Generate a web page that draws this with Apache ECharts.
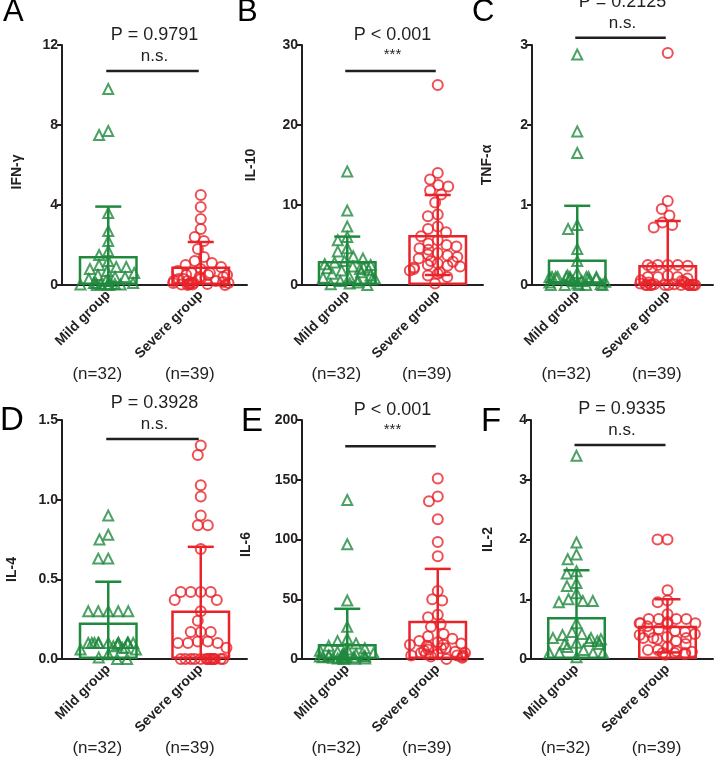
<!DOCTYPE html>
<html lang="en">
<head>
<meta charset="UTF-8">
<title>Cytokines by group</title>
<script src="https://cdn.jsdelivr.net/npm/echarts@6/dist/echarts.min.js"></script>
<style>
  html, body { margin: 0; padding: 0; background: #fff; }
  #main { width: 714px; height: 757px; }
</style>
</head>
<body>
<div id="main"></div>
<script>
// categories and labels
const groups = ['Mild group', 'Severe group'];
const groupN = ['(n=32)', '(n=39)'];
const panelLetters = ['A', 'B', 'C', 'D', 'E', 'F'];
const cytokines = ['IFN-γ', 'IL-10', 'TNF-α', 'IL-4', 'IL-6', 'IL-2'];
const yMax = [12, 30, 3, 1.5, 200, 4];
const yStep = [4, 10, 1, 0.5, 50, 1];
const pTexts = ['P = 0.9791', 'P < 0.001', 'P = 0.2125', 'P = 0.3928', 'P < 0.001', 'P = 0.9335'];
const sigMarks = ['n.s.', '***', 'n.s.', 'n.s.', '***', 'n.s.'];
const sigLevel = [10.7, 26.75, 3.09, 1.38, 178, 3.58];

// bar heights (mean) and error bars (SD), [mild, severe]
const barMean = [[1.45, 0.93], [3.0, 6.25], [0.32, 0.25], [0.229, 0.304], [12.5, 32], [0.705, 0.555]];
const barSD = [[2.47, 1.22], [3.05, 5.0], [0.67, 0.55], [0.256, 0.4], [29.5, 43.4], [0.78, 0.445]];

// individual values
const ifnMild = [9.8, 7.7, 7.5, 3.6, 2.7, 2.2, 1.7, 1.5, 1.2, 1.0, 0.9, 0.9, 0.8, 0.7, 0.6, 0.5, 0.4, 0.4, 0.3, 0.2, 0.2, 0.1, 0.1, 0.1, 0.05, 0.05, 0.05, 0.02, 0.02, 0.02, 0, 0];
const ifnSevere = [4.5, 3.9, 3.3, 2.8, 2.4, 2.2, 1.8, 1.4, 1.2, 1.1, 1.0, 0.9, 0.8, 0.7, 0.6, 0.6, 0.5, 0.5, 0.5, 0.4, 0.4, 0.3, 0.3, 0.3, 0.2, 0.2, 0.2, 0.15, 0.1, 0.1, 0.1, 0.1, 0.05, 0.05, 0.05, 0.02, 0.02, 0, 0];
const il10Mild = [14.2, 9.3, 7.3, 6.0, 5.6, 4.6, 4.2, 3.6, 3.3, 3.0, 2.8, 2.6, 2.5, 2.3, 2.2, 2.1, 2.0, 1.9, 1.8, 1.6, 1.4, 1.2, 1.0, 0.9, 0.8, 0.7, 0.6, 0.5, 0.3, 0.2, 0.1, 0];
const il10Severe = [25, 14.0, 13.2, 12.5, 12.3, 11.8, 11.3, 10.3, 8.8, 8.6, 7.3, 7.0, 6.6, 6.1, 5.6, 5.2, 5.0, 4.8, 4.6, 4.4, 4.0, 3.8, 3.7, 3.5, 3.3, 3.0, 2.9, 2.7, 2.5, 2.4, 2.3, 2.2, 2.0, 1.8, 1.6, 1.4, 1.2, 1.0, 0.2];
const tnfMild = [2.88, 1.92, 1.65, 0.75, 0.7, 0.45, 0.3, 0.15, 0.12, 0.1, 0.1, 0.1, 0.1, 0.1, 0.1, 0.1, 0.1, 0.1, 0.08, 0.08, 0.06, 0.05, 0.05, 0.04, 0.03, 0.02, 0.01, 0, 0, 0, 0, 0];
const tnfSevere = [2.9, 1.05, 0.95, 0.87, 0.78, 0.75, 0.72, 0.25, 0.25, 0.25, 0.25, 0.24, 0.22, 0.12, 0.1, 0.1, 0.1, 0.08, 0.06, 0.05, 0.04, 0.03, 0.02, 0.02, 0.01, 0.01, 0, 0, 0, 0, 0, 0, 0, 0, 0, 0, 0, 0, 0];
const il4Mild = [0.9, 0.78, 0.75, 0.63, 0.63, 0.3, 0.3, 0.3, 0.3, 0.3, 0.1, 0.1, 0.1, 0.1, 0.1, 0.1, 0.1, 0.1, 0.1, 0.1, 0.1, 0.1, 0.09, 0.08, 0.07, 0.07, 0.06, 0.06, 0.03, 0.01, 0, 0];
const il4Severe = [1.34, 1.28, 1.09, 1.02, 0.9, 0.84, 0.84, 0.69, 0.42, 0.42, 0.42, 0.42, 0.37, 0.37, 0.3, 0.24, 0.17, 0.17, 0.17, 0.11, 0.11, 0.1, 0.1, 0.1, 0.07, 0, 0, 0, 0, 0, 0, 0, 0, 0, 0, 0, 0, 0, 0];
const il6Mild = [133, 96, 49, 27, 17, 15, 13, 11, 9, 8, 7, 6, 5, 5, 4, 4, 3, 3, 3, 2, 2, 2, 2, 1.5, 1.5, 1, 1, 1, 0.5, 0.5, 0.2, 0];
const il6Severe = [151, 136, 132, 117, 98, 86, 57, 50, 49, 37, 35, 29, 27, 21, 19, 17, 15, 14, 13, 12, 12, 11, 10, 9, 9, 8, 7, 6, 5, 5, 4, 4, 3, 3, 3, 2, 2, 1, 0];
const il2Mild = [3.4, 1.95, 1.75, 1.67, 1.47, 1.43, 1.27, 1.22, 1.1, 1.0, 0.97, 0.97, 0.95, 0.6, 0.45, 0.42, 0.4, 0.35, 0.35, 0.33, 0.3, 0.3, 0.27, 0.25, 0.25, 0.2, 0.15, 0.1, 0.1, 0.1, 0.1, 0.03];
const il2Severe = [2.0, 2.0, 1.15, 0.98, 0.95, 0.75, 0.67, 0.67, 0.67, 0.67, 0.62, 0.6, 0.6, 0.6, 0.58, 0.55, 0.5, 0.47, 0.45, 0.45, 0.42, 0.4, 0.37, 0.35, 0.35, 0.35, 0.33, 0.3, 0.25, 0.2, 0.15, 0.15, 0.13, 0.12, 0.1, 0.1, 0.1, 0.08, 0.07];

const mildValues = [ifnMild, il10Mild, tnfMild, il4Mild, il6Mild, il2Mild];
const severeValues = [ifnSevere, il10Severe, tnfSevere, il4Severe, il6Severe, il2Severe];

const GREEN = '#1f8a3d';
const RED = '#e8232a';
const INK = '#231f20';
const groupColors = [GREEN, RED];
const FONT = 'Liberation Sans';

const gridBoxes = [
  { left: 62, top: 45, width: 185, height: 240 },
  { left: 302, top: 45, width: 181, height: 240 },
  { left: 532, top: 45, width: 181, height: 240 },
  { left: 62, top: 420, width: 185, height: 241 },
  { left: 302, top: 420, width: 181, height: 241 },
  { left: 531, top: 420, width: 182, height: 241 }
];
const nameGaps = [38, 44, 38, 43, 49, 36];
// shifts the rotated axis name down the axis (px x2)
const nameShift = [14, 0, 0, 60, 10, 0];
const letterPos = [[3, -3], [237, -3], [472, -3], [0, 404], [241, 405], [481, 405]];

function renderErrorBar(params, api) {
  const idx = api.value(0);
  const m = api.value(1);
  const s = api.value(2);
  const top = api.coord([idx, m + s]);
  const bot = api.coord([idx, Math.max(0, m - s)]);
  const half = 13;
  const st = { stroke: groupColors[idx], lineWidth: 2.5 };
  const children = [
    { type: 'line', shape: { x1: top[0], y1: top[1], x2: bot[0], y2: bot[1] }, style: st },
    { type: 'line', shape: { x1: top[0] - half, y1: top[1], x2: top[0] + half, y2: top[1] }, style: st }
  ];
  if (m - s > 0) {
    children.push({ type: 'line', shape: { x1: bot[0] - half, y1: bot[1], x2: bot[0] + half, y2: bot[1] }, style: st });
  }
  return { type: 'group', children: children };
}

function makeSigRenderer(i) {
  return function (params, api) {
    const y = api.value(1);
    const a = api.coord([0, y]);
    const b = api.coord([1, y]);
    const mid = (a[0] + b[0]) / 2;
    const star = sigMarks[i] === '***';
    return {
      type: 'group',
      children: [
        { type: 'line', shape: { x1: a[0] - 2, y1: a[1], x2: b[0] - 2, y2: b[1] }, style: { stroke: INK, lineWidth: 2.5 } },
        { type: 'text', x: mid, y: a[1] - 27, style: { text: pTexts[i], fill: INK, font: '18px ' + FONT, align: 'center', verticalAlign: 'bottom' } },
        { type: 'text', x: mid, y: a[1] - (star ? 9 : 6), style: { text: sigMarks[i], fill: INK, font: (star ? '15px ' : '17px ') + FONT, align: 'center', verticalAlign: 'bottom' } }
      ]
    };
  };
}

const grid = [], xAxis = [], yAxis = [], series = [], graphic = [];

gridBoxes.forEach(function (box, i) {
  grid.push(box);
  xAxis.push({
    type: 'category', gridIndex: i, data: groups,
    jitter: 56, jitterOverlap: false, jitterMargin: 0,
    axisLine: { lineStyle: { color: INK, width: 2 } },
    axisTick: { alignWithLabel: true, length: 5, lineStyle: { color: INK, width: 2 } },
    axisLabel: { rotate: 45, margin: 8, color: INK, fontFamily: FONT, fontWeight: 'bold', fontSize: 14 }
  });
  xAxis.push({
    type: 'category', gridIndex: i, data: groupN, position: 'bottom',
    axisLine: { show: false }, axisTick: { show: false },
    axisLabel: { margin: 81, color: INK, fontFamily: FONT, fontSize: 17, padding: [0, 22, 0, 0] }
  });
  yAxis.push({
    type: 'value', gridIndex: i, min: 0, max: yMax[i], interval: yStep[i],
    name: cytokines[i], nameLocation: 'middle', nameGap: nameGaps[i],
    nameTextStyle: { color: INK, fontFamily: FONT, fontWeight: 'bold', fontSize: 14, padding: [0, nameShift[i], 0, 0] },
    splitLine: { show: false },
    axisLine: { show: true, lineStyle: { color: INK, width: 2 } },
    axisTick: { show: true, length: 5, lineStyle: { color: INK, width: 2 } },
    axisLabel: {
      margin: 4, color: INK, fontFamily: FONT, fontWeight: 'bold', fontSize: 14,
      formatter: i === 3 ? function (v) { return v.toFixed(1); } : null
    }
  });

  series.push({
    type: 'bar', xAxisIndex: 2 * i, yAxisIndex: i, barWidth: 59, z: 1,
    data: barMean[i].map(function (v, k) {
      return { value: v, itemStyle: { color: 'rgba(255,255,255,0)', borderColor: groupColors[k], borderWidth: 2.5 } };
    }),
    silent: true
  });
  series.push({
    type: 'scatter', xAxisIndex: 2 * i, yAxisIndex: i, z: 2,
    symbol: 'triangle', symbolSize: 10,
    itemStyle: { color: 'rgba(255,255,255,0)', borderColor: GREEN, borderWidth: 2 },
    data: mildValues[i].map(function (v) { return [0, v]; })
  });
  series.push({
    type: 'scatter', xAxisIndex: 2 * i, yAxisIndex: i, z: 2,
    symbol: 'circle', symbolSize: 10,
    itemStyle: { color: 'rgba(255,255,255,0)', borderColor: RED, borderWidth: 2 },
    data: severeValues[i].map(function (v) { return [1, v]; })
  });
  series.push({
    type: 'custom', xAxisIndex: 2 * i, yAxisIndex: i, z: 3,
    renderItem: renderErrorBar,
    data: [[0, barMean[i][0], barSD[i][0]], [1, barMean[i][1], barSD[i][1]]]
  });
  series.push({
    type: 'custom', xAxisIndex: 2 * i, yAxisIndex: i, z: 3, clip: false,
    renderItem: makeSigRenderer(i),
    data: [[0, sigLevel[i]]]
  });

  graphic.push({
    type: 'text', left: letterPos[i][0], top: letterPos[i][1],
    style: { text: panelLetters[i], fill: '#000', font: (i < 3 ? '31px ' : '33px ') + FONT }
  });
});

const chart = echarts.init(document.getElementById('main'));
chart.setOption({
  animation: false,
  backgroundColor: '#fff',
  grid: grid,
  xAxis: xAxis,
  yAxis: yAxis,
  series: series,
  graphic: graphic
});
</script>
</body>
</html>
